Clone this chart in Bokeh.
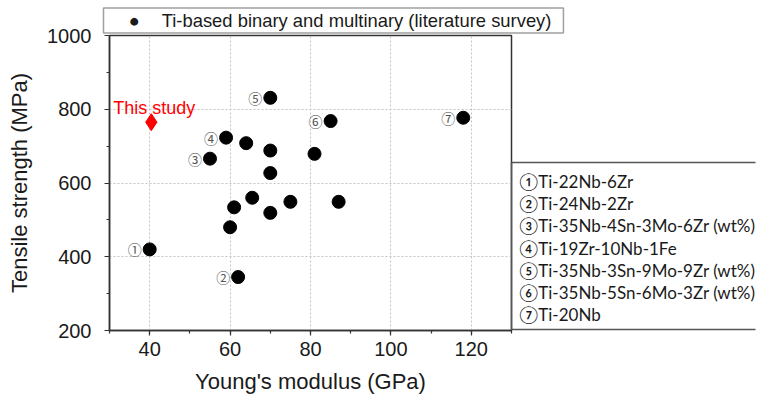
from bokeh.plotting import figure
from bokeh.models import (SingleIntervalTicker, FixedTicker, ColumnDataSource, Title,
                          LinearAxis, Range1d)
from bokeh.core.properties import value
from bokeh.embed import file_html
from bokeh.resources import INLINE

# ---- data ----
modulus = [40, 62, 55, 59, 70, 85, 118, 64, 70, 81, 70, 65.5, 61, 75, 87, 70, 60]
strength = [420, 345, 666, 723, 831, 768, 777, 708, 688, 679, 627, 560, 534, 549, 549, 519, 480]
marks = ["①", "②", "③", "④", "⑤", "⑥", "⑦"]
alloys = ["Ti-22Nb-6Zr", "Ti-24Nb-2Zr", "Ti-35Nb-4Sn-3Mo-6Zr (wt%)", "Ti-19Zr-10Nb-1Fe",
          "Ti-35Nb-3Sn-9Mo-9Zr (wt%)", "Ti-35Nb-5Sn-6Mo-3Zr (wt%)", "Ti-20Nb"]
study_modulus = [40.4]
study_strength = [765]
study_label = ["This study"]
series_label = "Ti-based binary and multinary (literature survey)"
x_label = "Young's modulus (GPa)"
y_label = "Tensile strength (MPa)"

AX = "#333333"
SANS = "Liberation Sans"
CJK = "Noto Sans CJK JP"
FRAME_H = 295

p = figure(width=758, height=398, x_range=(30, 130), y_range=(200, 1000),
           output_backend="svg", toolbar_location=None,
           min_border_left=109, min_border_right=247, min_border_top=35, min_border_bottom=68,
           background_fill_color="white", border_fill_color="white")

xt = SingleIntervalTicker(interval=20, num_minor_ticks=2)
yt = SingleIntervalTicker(interval=200, num_minor_ticks=2)
p.xaxis.ticker = xt
p.yaxis.ticker = yt
p.xgrid.ticker = xt
p.ygrid.ticker = yt

for g in (p.xgrid[0], p.ygrid[0]):
    g.grid_line_color = "#c4c4c4"
    g.grid_line_dash = "2 2"
    g.grid_line_width = 1

for ax in (p.xaxis[0], p.yaxis[0]):
    ax.axis_line_color = AX
    ax.axis_line_width = 1.5
    ax.major_tick_line_color = AX
    ax.major_tick_line_width = 1.2
    ax.minor_tick_line_color = AX
    ax.minor_tick_line_width = 1.2
    ax.major_tick_out = 5
    ax.major_tick_in = 0
    ax.minor_tick_out = 3
    ax.minor_tick_in = 0
    ax.major_label_text_font = SANS
    ax.major_label_text_font_size = "20px"
    ax.major_label_text_color = "#1a1a1a"
    ax.axis_label_text_font = SANS
    ax.axis_label_text_font_size = "22px"
    ax.axis_label_text_font_style = "normal"
    ax.axis_label_text_color = "#1a1a1a"

p.xaxis.axis_label = x_label
p.yaxis.axis_label = y_label
p.xaxis.major_label_standoff = 6
p.yaxis.major_label_standoff = 13
p.xaxis.axis_label_standoff = 10
p.yaxis.axis_label_standoff = 12

p.outline_line_color = AX
p.outline_line_width = 1.5
p.outline_line_alpha = 1

# literature points
p.scatter(modulus, strength, size=13, marker="circle", color="black")

# circled numbers next to first seven points
lab = ColumnDataSource(dict(x=modulus[:7], y=strength[:7], t=marks))
p.text(x="x", y="y", text="t", source=lab, x_offset=-15, text_align="center",
       text_baseline="middle", text_font=value(CJK), text_font_size="14px",
       text_color="#555555")

# this study
p.scatter(study_modulus, study_strength, marker="diamond", size=17, color="#ff0000")
p.text(x=study_modulus, y=study_strength, text=study_label, x_offset=-38, y_offset=-14,
       text_align="left", text_baseline="alphabetic", text_font=value(SANS),
       text_font_size="18px", text_color="#ff0000")

# top key (series) as a boxed title above the frame
top_key = Title(text="●\u2003\u2009" + series_label, align="left", offset=-6, standoff=5,
                text_font=SANS, text_font_size="18.4px", text_font_style="normal",
                text_color="#1a1a1a", border_line_color="#a0a0a0", border_line_width=1.5,
                background_fill_color="white",
                padding=dict(left=25, right=12, top=2, bottom=2))
p.add_layout(top_key, "above")

# right key: a screen-like extra range (0 = frame top, FRAME_H = frame bottom)
p.extra_y_ranges = {"key": Range1d(start=FRAME_H, end=0)}
row0, row_step = 146, 22.2
rows = [int(round(row0 + i * row_step)) for i in range(len(alloys))]
box_top, box_bottom = 127, 294
box_w = 244
text_gap = 8

gap_axis = LinearAxis(y_range_name="key", ticker=FixedTicker(ticks=[]),
                      axis_line_color=None, major_tick_out=3, major_tick_in=0,
                      major_tick_line_color=None, minor_tick_line_color=None,
                      major_label_standoff=0, major_label_text_font_size="1px")
p.add_layout(gap_axis, "right")

key_axis = LinearAxis(y_range_name="key",
                      ticker=FixedTicker(ticks=rows, minor_ticks=[box_top, box_bottom]),
                      bounds=(box_top, box_bottom),
                      axis_line_color="#555555", axis_line_width=1.5,
                      major_tick_out=0, major_tick_in=0, major_tick_line_color=None,
                      minor_tick_out=box_w, minor_tick_in=0, minor_tick_line_color="#555555",
                      minor_tick_line_width=1.5,
                      major_label_standoff=text_gap - box_w,
                      major_label_text_font="Lato, 'Noto Sans CJK JP'",
                      major_label_text_font_size="17px", major_label_text_color="#1a1a1a",
                      major_label_overrides={r: m + a for r, m, a in zip(rows, marks, alloys)})
p.add_layout(key_axis, "right")

open("out.html", "w").write(file_html(p, INLINE))
